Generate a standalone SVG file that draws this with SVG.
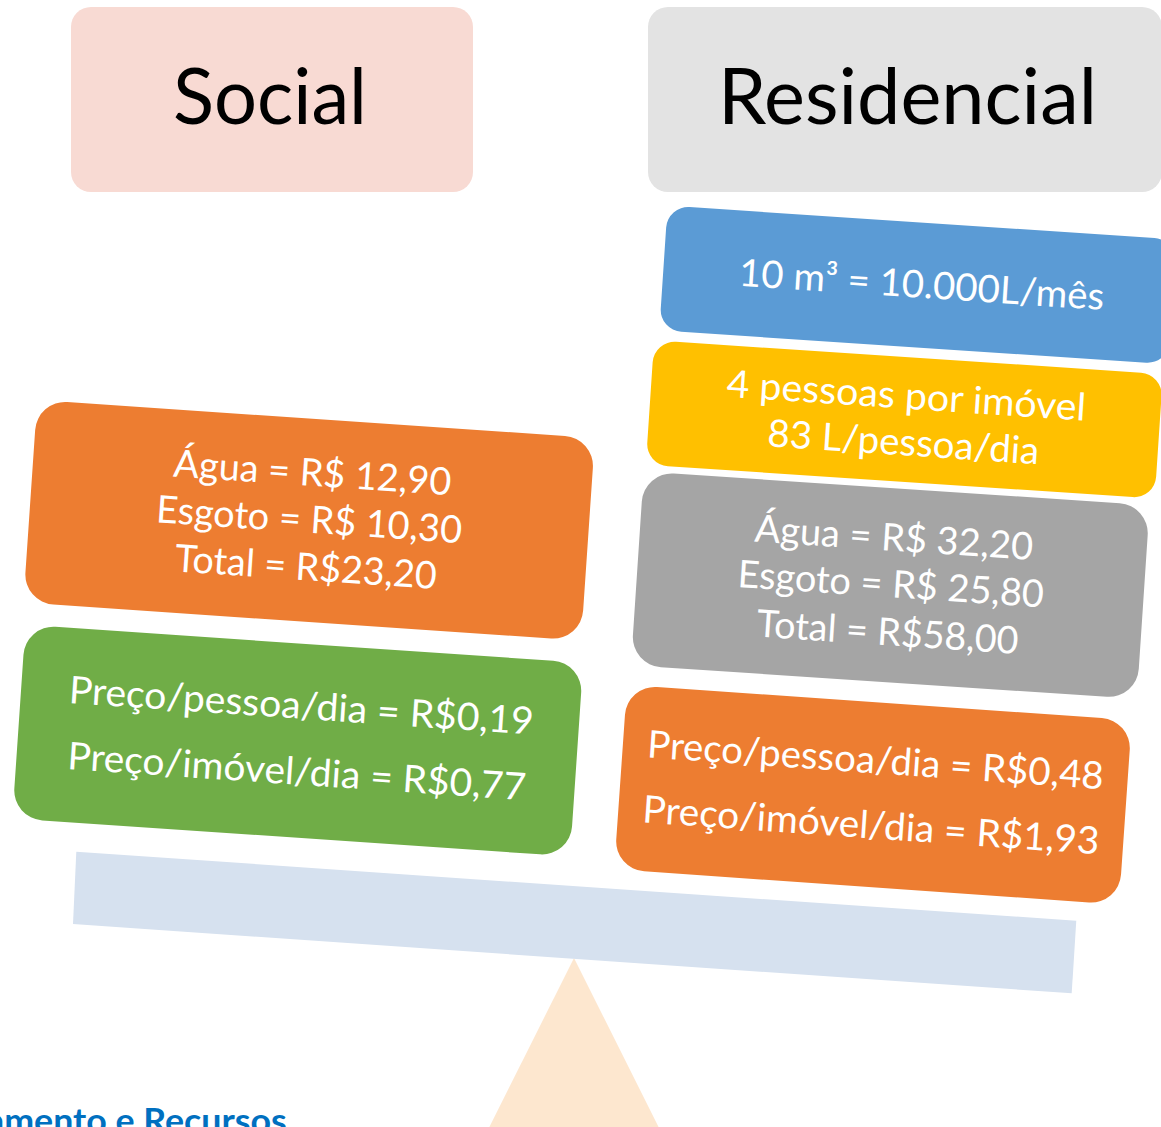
<svg xmlns="http://www.w3.org/2000/svg" width="1161" height="1127" viewBox="0 0 1161 1127">
<style>
  .t { font-family: Lato, "Liberation Sans", sans-serif; fill: #ffffff; font-size: 38px; text-anchor: middle; }
  .hdr { font-family: Lato, "Liberation Sans", sans-serif; fill: #000000; font-size: 78px; text-anchor: middle; }
  .orange { fill: #ED7D31; }
  .green { fill: #70AD47; }
  .blue { fill: #5B9BD5; }
  .yellow { fill: #FFC000; }
  .gray { fill: #A5A5A5; }
</style>
<rect width="1161" height="1127" fill="#ffffff"/>

<g id="fulcrum">
  <polygon points="574,958 489.4,1127 658.6,1127" fill="#FDE7CF"/>
</g>
<g id="beam">
  <polygon points="76.3,851.7 1076.3,920.7 1071.7,993.3 73,924" fill="#D6E1EF"/>
</g>

<g id="header-social">
  <rect x="71" y="7" width="402" height="185" rx="20" fill="#F8DAD3"/>
  <text class="hdr" x="270" y="124" textLength="194" lengthAdjust="spacingAndGlyphs">Social</text>
</g>
<g id="header-residencial">
  <rect x="648" y="7" width="514" height="185" rx="20" fill="#E3E3E3"/>
  <text class="hdr" x="907.5" y="124" textLength="379" lengthAdjust="spacingAndGlyphs">Residencial</text>
</g>

<g id="social-custos" transform="translate(309.15,520.27) rotate(3.9)">
  <rect class="orange" x="-279.5" y="-101.5" width="559" height="203" rx="30"/>
  <text class="t" x="0" y="-34.5" textLength="278.3" lengthAdjust="spacingAndGlyphs">Água = R$ 12,90</text>
  <text class="t" x="0" y="12.5" textLength="306.4" lengthAdjust="spacingAndGlyphs">Esgoto = R$ 10,30</text>
  <text class="t" x="0" y="60" textLength="262.3" lengthAdjust="spacingAndGlyphs">Total = R$23,20</text>
</g>

<g id="social-precos" transform="translate(297.75,740.6) rotate(3.9)">
  <rect class="green" x="-279.5" y="-97" width="559" height="194" rx="30"/>
  <text class="t" x="1.2" y="-22" textLength="465.5" lengthAdjust="spacingAndGlyphs">Preço/pessoa/dia = R$0,19</text>
  <text class="t" x="1.2" y="44" textLength="459.4" lengthAdjust="spacingAndGlyphs">Preço/imóvel/dia = R$0,77</text>
</g>

<g id="res-volume" transform="translate(917.9,284.9) rotate(3.8)">
  <rect class="blue" x="-255" y="-62.5" width="510" height="125" rx="22"/>
  <text class="t" x="3.8" y="12.7" textLength="365.8" lengthAdjust="spacingAndGlyphs">10 m³ = 10.000L/mês</text>
</g>

<g id="res-pessoas" transform="translate(904.4,419.5) rotate(3.8)">
  <rect class="yellow" x="-255" y="-62.4" width="510" height="124.7" rx="22"/>
  <text class="t" x="0.4" y="-10.8" textLength="359.8" lengthAdjust="spacingAndGlyphs">4 pessoas por imóvel</text>
  <text class="t" x="0.4" y="35.8" textLength="272.2" lengthAdjust="spacingAndGlyphs">83 L/pessoa/dia</text>
</g>

<g id="res-custos" transform="translate(890.3,585.2) rotate(3.8)">
  <rect class="gray" x="-253.5" y="-97" width="507" height="194" rx="30"/>
  <text class="t" x="0.5" y="-34.6" textLength="279" lengthAdjust="spacingAndGlyphs">Água = R$ 32,20</text>
  <text class="t" x="0.5" y="12" textLength="306.7" lengthAdjust="spacingAndGlyphs">Esgoto = R$ 25,80</text>
  <text class="t" x="0.5" y="60.2" textLength="262.2" lengthAdjust="spacingAndGlyphs">Total = R$58,00</text>
</g>

<g id="res-precos" transform="translate(873,794.7) rotate(4)">
  <rect class="orange" x="-253" y="-92.4" width="506" height="184.8" rx="30"/>
  <text class="t" x="0.2" y="-21.5" textLength="457.4" lengthAdjust="spacingAndGlyphs">Preço/pessoa/dia = R$0,48</text>
  <text class="t" x="0.2" y="43.7" textLength="457.7" lengthAdjust="spacingAndGlyphs">Preço/imóvel/dia = R$1,93</text>
</g>

<g id="footer">
  <text x="-14" y="1133" font-family="Lato, 'Liberation Sans', sans-serif" font-weight="700" font-size="33.5" fill="#0070C0" textLength="300.7" lengthAdjust="spacingAndGlyphs">amento e Recursos</text>
</g>
</svg>
